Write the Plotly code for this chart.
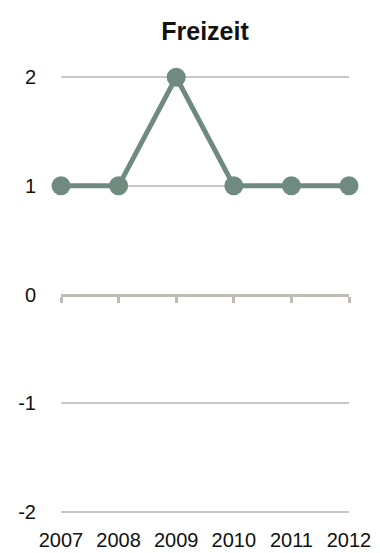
import plotly.graph_objects as go

# Freizeit: yearly values
years = [2007, 2008, 2009, 2010, 2011, 2012]
values = [1, 1, 2, 1, 1, 1]
y_ticks = [-2, -1, 0, 1, 2]
y_labels = ["-2", "-1", "0", "1", "2"]

line_color = "#6f8b80"
axis_color = "#c1bbb6"
grid_color = "#c8c8c8"
font_family = "Liberation Sans, Arial, sans-serif"

fig = go.Figure()
fig.add_trace(go.Scatter(
    x=years, y=values,
    mode="lines+markers",
    line=dict(color=line_color, width=5),
    marker=dict(color=line_color, size=19),
    cliponaxis=False,
    showlegend=False,
    xaxis="x", yaxis="y",
))
# invisible trace on the zero-line axis so it renders
fig.add_trace(go.Scatter(
    x=years, y=[None] * len(years), xaxis="x2", yaxis="y",
    showlegend=False, hoverinfo="skip",
))

pad = 0.02
fig.update_layout(
    width=380, height=553,
    margin=dict(l=61, r=31, t=75, b=39),
    paper_bgcolor="white", plot_bgcolor="white",
    font=dict(family=font_family, size=20, color="#111111"),
    title=dict(text="<b>Freizeit</b>", x=0.5, xref="paper", xanchor="center",
               y=1 - 31 / 553, yref="container", yanchor="middle",
               font=dict(size=25, color="#111111")),
    xaxis=dict(
        range=[years[0], years[-1]], tickmode="array", tickvals=years,
        ticktext=[str(y) for y in years],
        showgrid=False, zeroline=False, showline=False, automargin=False,
        ticks="outside", ticklen=8, tickcolor="rgba(0,0,0,0)",
    ),
    xaxis2=dict(
        range=[years[0], years[-1]], tickmode="array", tickvals=years,
        showticklabels=False, showgrid=False, zeroline=False,
        showline=True, linecolor=axis_color, linewidth=3,
        ticks="outside", ticklen=6, tickwidth=3, tickcolor=axis_color,
        anchor="free", position=0.5, overlaying="x", side="bottom",
        automargin=False,
    ),
    yaxis=dict(
        range=[-2 - pad, 2 + pad], tickmode="array", tickvals=y_ticks,
        ticktext=y_labels,
        showgrid=True, gridcolor=grid_color, gridwidth=1.5,
        zeroline=False, showline=False, automargin=False,
        ticks="outside", ticklen=20, tickcolor="rgba(0,0,0,0)",
    ),
)

fig.write_html("out.html")
